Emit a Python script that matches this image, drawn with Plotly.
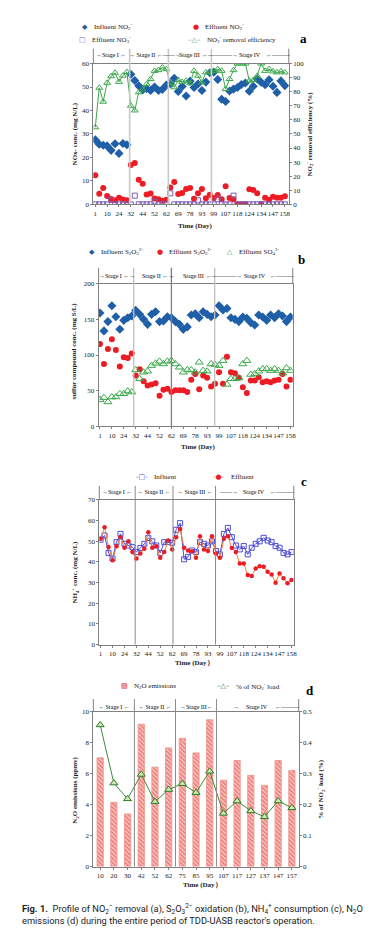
import plotly.graph_objects as go

# ---------------- data ----------------
tick_days = ["1", "10", "24", "32", "44", "52", "62", "69", "78", "93", "99",
             "107", "118", "124", "134", "147", "158"]
sample_idx = list(range(49))
tick_idx = sample_idx[::3]

# (a) NO2- removal
influent_no2 = [27.5, 25.6, 25.2, 24.9, 23.0, 25.8, 21.7, 25.9, 25.4,
                55.4, 52.8, 50.5, 48.7, 49.3, 48.5, 50.0, 48.5, 49.0, 50.8,
                51.4, 53.7, 48.1, 50.2, 46.2, 52.5, 49.8, 51.3, 48.5, 52.1, 56.1,
                56.3, 53.2, 44.8, 43.8, 48.3, 49.1, 49.8, 51.1, 51.7, 48.2, 50.3,
                53.4, 52.0, 51.0, 53.1, 50.3, 47.7, 52.6, 50.6]
effluent_no2 = [12.4, 4.5, 7.0, 3.5, 2.3, 1.7, 2.8, 2.1, 1.7,
                16.8, 17.6, 10.5, 8.8, 4.2, 4.6, 2.5, 2.2, 1.5, 2.0,
                7.2, 9.5, 4.4, 4.8, 6.5, 7.0, 2.4, 4.7, 6.5, 2.6, 4.1,
                2.7, 4.0, 2.2, 7.7, 2.7, 2.2, 0.0, 0.0, 0.0, 6.4, 6.1,
                4.7, 0.0, 2.8, 2.0, 3.2, 2.8, 2.8, 3.4]
effluent_no3 = [0, 0, 0, 0, 1.9, 0, 0, 0, 0,
                0, 3.7, 0, 0, 0, 0, 1.2, 0, 0, 0,
                4.7, 0, 0, 0, 0, 0, 0, 1.7, 0, 0, 0,
                0, 2.2, 0, 0, 0, 3.7, 0, 0, 0, 0, 0,
                0, 0, 0, 0, 0, 0, 0, 0]
no2_removal = [54.7, 82.8, 72.9, 86.3, 91.0, 93.4, 87.0, 91.4, 94.0,
               70.0, 66.7, 79.6, 81.5, 85.4, 89.0, 94.8, 95.3, 97.2, 96.0,
               85.9, 83.1, 88.3, 86.9, 87.8, 85.9, 94.8, 91.3, 86.6, 93.7, 93.7,
               94.8, 96.0, 94.8, 81.9, 89.0, 95.3, 100, 100, 100, 87.8, 88.3,
               91.3, 100, 94.8, 96.0, 94.4, 93.7, 94.4, 93.7]

# (b) S2O3 2- oxidation
influent_s2o3 = [158.8, 133.8, 146.8, 169.0, 153.7, 136.1, 148.6, 152.3, 154.6,
                 162.5, 157.0, 150.0, 143.0, 157.0, 160.6, 146.8, 147.7, 153.7, 152.3,
                 146.8, 143.0, 136.0, 139.4, 156.0, 157.9, 152.3, 160.6, 157.0, 153.7, 156.0,
                 169.0, 163.0, 165.3, 152.3, 150.0, 146.8, 153.2, 151.4, 145.4, 142.1, 156.0,
                 153.2, 148.6, 156.0, 152.3, 157.9, 154.6, 146.8, 153.2]
effluent_s2o3 = [115.3, 87.5, 108.3, 122.2, 107.0, 83.8, 96.8, 95.8, 102.3,
                 71.3, 80.1, 63.4, 57.4, 58.8, 60.6, 43.0, 51.4, 52.8, 48.1,
                 50.5, 50.5, 50.5, 48.1, 65.3, 73.6, 51.9, 71.3, 68.0, 56.0, 59.7,
                 75.9, 59.7, 97.7, 75.9, 74.5, 68.0, 55.0, 46.8, 64.4, 64.4, 69.0,
                 62.0, 63.4, 62.0, 64.4, 65.3, 73.6, 56.0, 65.3]
effluent_so4 = [37.5, 40.3, 34.3, 41.2, 41.2, 45.8, 45.8, 49.5, 48.1,
                79.2, 66.7, 75.9, 77.3, 85.2, 88.4, 91.2, 87.5, 91.2, 92.1,
                87.5, 82.9, 75.9, 79.2, 79.2, 75.9, 89.8, 78.2, 77.3, 87.5, 86.6,
                85.2, 92.1, 58.8, 66.7, 66.7, 68.0, 87.5, 92.1, 72.7, 73.6, 77.3,
                80.6, 80.6, 78.2, 80.6, 78.2, 74.5, 81.9, 78.2]

# (c) NH4+ consumption
nh4_influent = [50.7, 52.7, 44.3, 41.6, 49.5, 53.5, 48.7, 47.9, 47.1, 44.7,
                46.7, 48.7, 51.5, 49.9, 47.9, 44.3, 49.5, 49.5, 49.2, 55.5,
                58.7, 41.2, 42.4, 45.5, 44.7, 49.5, 48.7, 47.9, 49.9, 45.2,
                43.6, 53.5, 56.4, 51.9, 47.9, 46.0, 47.6, 43.6, 46.8, 48.7,
                49.9, 51.6, 50.3, 49.5, 47.6, 46.8, 44.3, 43.6, 44.7]
nh4_effluent = [51.1, 56.7, 47.1, 40.8, 47.5, 51.9, 46.8, 49.9, 44.7, 41.6,
                44.0, 46.3, 54.3, 46.8, 47.5, 41.9, 44.7, 50.3, 46.0, 51.9,
                55.9, 46.8, 45.5, 45.1, 41.9, 52.4, 46.0, 45.2, 52.4, 44.0,
                41.9, 51.1, 52.4, 46.7, 44.7, 39.2, 39.2, 33.6, 33.1, 36.8,
                37.9, 37.6, 35.2, 33.9, 29.9, 34.4, 32.0, 29.6, 31.2]

# (d) N2O emissions
days_d = ["10", "20", "30", "42", "52", "62", "75", "85", "95", "107",
          "117", "127", "137", "147", "157"]
n2o_emission = [7.03, 4.15, 3.40, 9.20, 6.43, 7.67, 8.29, 7.35, 9.49, 5.58,
                6.86, 5.90, 5.25, 6.86, 6.22]
no2_load_pct = [0.458, 0.270, 0.219, 0.298, 0.210, 0.249, 0.268, 0.239, 0.308,
                0.172, 0.212, 0.180, 0.161, 0.212, 0.190]

# ---------------- layout helpers ----------------
W, H = 385, 931


def fx(p):
    return p / W


def fy(p):
    return 1 - p / H


SERIF = "Liberation Serif"
SYM = "DejaVu Sans"
BLUE = "#1f5fa8"
RED = "#ec1c24"
GREEN = "#3aa84a"
PURPLE = "#7d5cb6"
NH4_BLUE = "#4b4bd6"
ORANGE = "#f0813a"
DGREEN = "#2b7a2b"
BAR_RED = "#e0201a"
AXC = "#808080"
TXT = "#1a1a1a"

fig = go.Figure()

# ----- panel a -----
fig.add_trace(go.Scatter(x=sample_idx, y=influent_no2, mode="markers",
                         name="Influent NO2-",
                         marker=dict(symbol="diamond", size=7, color=BLUE),
                         xaxis="x", yaxis="y"))
fig.add_trace(go.Scatter(x=sample_idx, y=effluent_no2, mode="markers",
                         name="Effluent NO2-",
                         marker=dict(symbol="circle", size=6, color=RED),
                         xaxis="x", yaxis="y"))
fig.add_trace(go.Scatter(x=sample_idx, y=effluent_no3, mode="markers",
                         name="Effluent NO3-",
                         marker=dict(symbol="square-open", size=5, color=PURPLE,
                                     line=dict(width=1)),
                         xaxis="x", yaxis="y"))
fig.add_trace(go.Scatter(x=sample_idx, y=no2_removal, mode="lines+markers",
                         name="NO2- removal efficiency",
                         line=dict(color=GREEN, width=1),
                         marker=dict(symbol="triangle-up-open", size=6, color=GREEN,
                                     line=dict(width=1)),
                         xaxis="x", yaxis="y2"))

# ----- panel b -----
fig.add_trace(go.Scatter(x=sample_idx, y=influent_s2o3, mode="markers",
                         name="Influent S2O3 2-",
                         marker=dict(symbol="diamond", size=7, color=BLUE),
                         xaxis="x2", yaxis="y3"))
fig.add_trace(go.Scatter(x=sample_idx, y=effluent_s2o3, mode="markers",
                         name="Effluent S2O3 2-",
                         marker=dict(symbol="circle", size=6, color=RED),
                         xaxis="x2", yaxis="y3"))
fig.add_trace(go.Scatter(x=sample_idx, y=effluent_so4, mode="markers",
                         name="Effluent SO4 2-",
                         marker=dict(symbol="triangle-up-open", size=7, color=GREEN,
                                     line=dict(width=1)),
                         xaxis="x2", yaxis="y3"))

# ----- panel c -----
fig.add_trace(go.Scatter(x=sample_idx, y=nh4_influent, mode="lines+markers",
                         name="Influent",
                         line=dict(color=NH4_BLUE, width=1),
                         marker=dict(symbol="square-open", size=5, color=NH4_BLUE,
                                     line=dict(width=1)),
                         xaxis="x3", yaxis="y4"))
fig.add_trace(go.Scatter(x=sample_idx, y=nh4_effluent, mode="lines+markers",
                         name="Effluent",
                         line=dict(color=ORANGE, width=1),
                         marker=dict(symbol="circle", size=4.5, color=RED),
                         xaxis="x3", yaxis="y4"))

# ----- panel d -----
fig.add_trace(go.Bar(x=days_d, y=n2o_emission, name="N2O emissions",
                     width=0.45,
                     marker=dict(color="#f3b3ac",
                                 line=dict(color="#f29a90", width=1),
                                 pattern=dict(shape="\\", fgcolor=BAR_RED,
                                              bgcolor="#fde4e1", size=3, solidity=0.7)),
                     xaxis="x4", yaxis="y5"))
fig.add_trace(go.Scatter(x=days_d, y=no2_load_pct, mode="lines+markers",
                         name="% of NO2- load",
                         line=dict(color="#3a8f3a", width=1),
                         marker=dict(symbol="triangle-up", size=7, color="#cfe8b0",
                                     line=dict(color=DGREEN, width=1)),
                         xaxis="x4", yaxis="y6"))

# ---------------- axes ----------------
tickfont = dict(family=SERIF, size=7, color=TXT)


def xax(dom, rng, anchor, **kw):
    d = dict(domain=[fx(dom[0]), fx(dom[1])], range=rng, anchor=anchor,
             showline=True, linecolor=AXC, linewidth=1, mirror=True,
             ticks="outside", ticklen=2, tickcolor=AXC, showgrid=False,
             zeroline=False, tickfont=tickfont, tickangle=0)
    d.update(kw)
    return d


def yax(dom, rng, anchor, dtick, **kw):
    d = dict(domain=[fy(dom[1]), fy(dom[0])], range=rng, anchor=anchor, dtick=dtick,
             showline=True, linecolor=AXC, linewidth=1, ticks="outside", ticklen=2,
             tickcolor=AXC, showgrid=False, zeroline=False, tickfont=tickfont)
    d.update(kw)
    return d


# pixel geometry of each panel: (left, right, top, bottom)
PA = (86, 283, 52, 194)
PB = (91.3, 287, 274, 418)
PC = (92, 288, 492, 638)
PD = (86, 293, 706, 862)

fig.update_layout(
    xaxis=xax(PA[:2], [-0.5, 49.0], "y", tickmode="array", tickvals=tick_idx, ticktext=tick_days),
    yaxis=yax(PA[2:], [0, 60], "x", 10),
    yaxis2=yax(PA[2:], [0, 100], "x", 10, overlaying="y", side="right"),
    xaxis2=xax(PB[:2], [-0.35, 48.58], "y3", tickmode="array", tickvals=tick_idx, ticktext=tick_days),
    yaxis3=yax(PB[2:], [0, 200], "x2", 50, mirror=True),
    xaxis3=xax(PC[:2], [-0.33, 48.57], "y4", tickmode="array", tickvals=tick_idx, ticktext=tick_days),
    yaxis4=yax(PC[2:], [0, 70], "x3", 10, mirror=True),
    xaxis4=xax(PD[:2], [-0.5, 14.5], "y5", type="category"),
    yaxis5=yax(PD[2:], [0, 10], "x4", 2),
    yaxis6=yax(PD[2:], [0, 0.5], "x4", 0.1, overlaying="y5", side="right"),
)

# ---------------- shapes: stage dividers & band frame ----------------
shapes = []
panels = [
    # (xref, geometry, band top px, divider positions, divider colours, width)
    ("x", PA, 37, [8.7, 18.5, 29.4], ["#c8c8c8", "#c8c8c8", "#c8c8c8"], 1.6),
    ("x2", PB, 258, [8.5, 18.0, 28.9], ["#c0c0c0", "#808080", "#c0c0c0"], 1.3),
    ("x3", PC, 478, [8.7, 18.2, 28.9], ["#8a8a8a", "#8a8a8a", "#8a8a8a"], 1.0),
    ("x4", PD, 693, [2.5, 5.5, 8.5], ["#8a8a8a", "#8a8a8a", "#8a8a8a"], 1.0),
]
for xref, g, top, divs, cols, lw in panels:
    for dv, c in zip(divs, cols):
        shapes.append(dict(type="line", xref=xref, yref="paper", x0=dv, x1=dv,
                           y0=fy(g[3]), y1=fy(top), line=dict(color=c, width=lw)))
    for edge in (g[0], g[1]):
        shapes.append(dict(type="line", xref="paper", yref="paper", x0=fx(edge), x1=fx(edge),
                           y0=fy(g[2]), y1=fy(top), line=dict(color=AXC, width=1)))
fig.update_layout(shapes=shapes)

# ---------------- annotations ----------------
ann = []


def add_text(t, x, y, font, xanchor="center", yanchor="middle", angle=0, align="center"):
    ann.append(dict(text=t, x=fx(x), y=fy(y), xref="paper", yref="paper",
                    showarrow=False, font=font, xanchor=xanchor, yanchor=yanchor,
                    textangle=angle, align=align))


# stage band labels
stage_font = dict(family=SERIF, size=6, color="#000")
stage_text = [
    (43, [("→Stage I ←", 104), ("→ Stage II ←——→", 148), ("Stage III", 183),
          ("←————→", 214), ("Stage IV", 244), ("←———", 273)]),
    (266, [("→Stage I ←→", 110), ("Stage II ←→", 151), ("Stage III", 187),
           ("←————→", 218), ("Stage IV", 249), ("←———", 277)]),
    (484, [("→Stage I ←", 110), ("→ Stage II ←", 147), ("→ Stage III ←", 188),
           ("——→", 222), ("Stage IV", 248), ("←———", 277)]),
    (701, [("→ Stage I ←", 107), ("→ Stage II ←", 148), ("→Stage III←", 190),
           ("→", 230), ("Stage IV", 251), ("←———", 282)]),
]
for yy, items in stage_text:
    for t, xx in items:
        add_text(t, xx, yy, stage_font)

# legend keys (symbol + label)
leg_font = dict(family=SERIF, size=7, color=TXT)


def span(c, t):
    return '<span style="color:%s">%s</span>' % (c, t)


legend_items = [
    (span(BLUE, "◆"), "Influent NO<sub>2</sub><sup>-</sup>", 85, 15),
    (span(RED, "●"), "Effluent NO<sub>2</sub><sup>-</sup>", 197, 15),
    (span(PURPLE, "□"), "Effluent NO<sub>3</sub><sup>-</sup>", 83, 28),
    (span(GREEN, "–△–"), "NO<sub>2</sub><sup>-</sup> removal efficiency", 199, 28),
    (span(BLUE, "◆"), "Influent S<sub>2</sub>O<sub>3</sub><sup>2-</sup>", 92, 242),
    (span(RED, "●"), "Effluent S<sub>2</sub>O<sub>3</sub><sup>2-</sup>", 160, 242),
    (span(GREEN, "△"), "Effluent SO<sub>4</sub><sup>2-</sup>", 231, 242),
    (span(NH4_BLUE, "-□-"), "Influent", 145, 469),
    (span(ORANGE, "-") + span(RED, "●") + span(ORANGE, "-"), "Effluent", 223, 469),
    (span(BAR_RED, "▨"), "N<sub>2</sub>O emissions", 125, 680),
    (span(DGREEN, "–△–"), "% of NO<sub>2</sub><sup>-</sup> load", 228, 680),
]
for sym, label, tx, ty in legend_items:
    add_text(sym, tx - 2, ty, dict(family=SYM, size=7), xanchor="right")
    add_text(label, tx, ty, leg_font, xanchor="left")

# axis titles
title_font = dict(family=SERIF, size=7, color=TXT)
axis_titles = [
    ("<b>NOx- conc. (mg N/L)</b>", 67, 123, -90),
    ("<b>NO<sub>2</sub><sup>-</sup> removal efficiency (%)</b>", 304, 123, -90),
    ("<b>Time (Day)</b>", 189, 216, 0),
    ("<b>sulfur compound conc. (mg S/L)</b>", 67, 342, -90),
    ("<b>Time (Day)</b>", 192, 439, 0),
    ("<b>NH<sub>4</sub><sup>+</sup> conc. (mg N/L)</b>", 67, 565, -90),
    ("<b>Time (Day）</b>", 188, 657, 0),
    ("<b>N<sub>2</sub>O emissions (ppmv)</b>", 68, 785, -90),
    ("<b>% of NO<sub>2</sub><sup>-</sup> load (%)</b>", 315, 784, -90),
    ("<b>Time (Day）</b>", 196, 881, 0),
]
for t, xx, yy, ang in axis_titles:
    add_text(t, xx, yy, title_font, angle=ang)

# panel letters
for letter, xx, yy in [("a", 298, 27), ("b", 296, 250), ("c", 298, 474), ("d", 304, 684)]:
    add_text("<b>%s</b>" % letter, xx, yy, dict(family=SERIF, size=13, color="#000"))

# caption
caption = ("<b>Fig. 1.</b>  Profile of NO<sub>2</sub><sup>−</sup> removal (a), "
           "S<sub>2</sub>O<sub>3</sub><sup>2−</sup> oxidation (b), NH<sub>4</sub><sup>+</sup> "
           "consumption (c), N<sub>2</sub>O<br>emissions (d) during the entire period of "
           "TDD-UASB reactor's operation.")
add_text(caption, 12, 910, dict(family="Roboto", size=9.3, color="#222"),
         xanchor="left", align="left")

fig.update_layout(annotations=ann)

fig.update_layout(width=W, height=H, autosize=False,
                  margin=dict(l=0, r=0, t=0, b=0),
                  paper_bgcolor="white", plot_bgcolor="white",
                  font=dict(family=SERIF, size=7, color=TXT),
                  showlegend=False, bargap=0.5)

fig.write_html("out.html")
